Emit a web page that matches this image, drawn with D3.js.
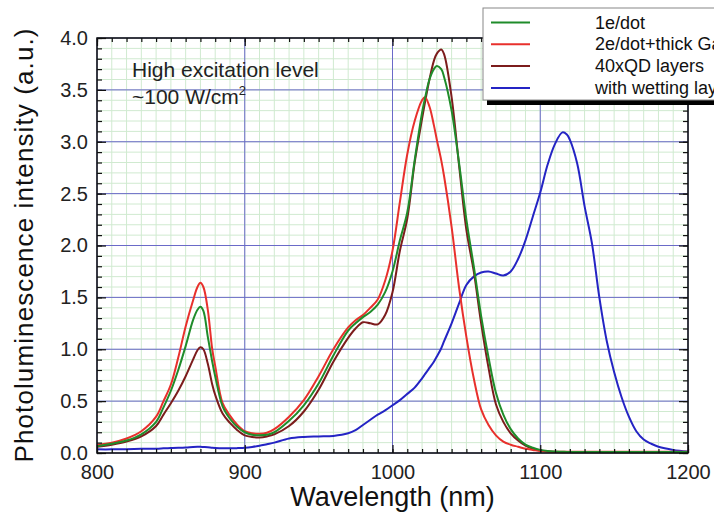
<!DOCTYPE html>
<html>
<head>
<meta charset="utf-8">
<script src="https://cdn.jsdelivr.net/npm/d3@7"></script>
<style>
  body { margin: 0; background: #fff; }
  svg { font-family: "Liberation Sans", Arial, sans-serif; }
  .axis text { font-size: 20px; fill: #222; }
  .axis .domain { display: none; }
  .axis line { stroke: #111; stroke-width: 1.2; }
</style>
</head>
<body>
<svg id="chart" width="714" height="516"></svg>
<script>
// wavelength sampling points (nm), shared by all spectra
const WAVELENGTHS = [
  800, 810, 820, 830, 840, 845, 850, 855, 860, 865, 868, 870, 872, 875, 878,
  880, 885, 890, 895, 900, 905, 910, 915, 920, 930, 940, 950, 960, 970, 975,
  980, 985, 990, 995, 1000, 1005, 1010, 1015, 1020, 1022, 1025, 1028, 1030,
  1033, 1035, 1040, 1045, 1050, 1055, 1060, 1065, 1070, 1075, 1080, 1085,
  1090, 1095, 1100, 1105, 1110, 1115, 1118, 1120, 1125, 1130, 1135, 1140,
  1145, 1150, 1155, 1160, 1165, 1170, 1175, 1180, 1190, 1200,
];

// PL intensity (a.u.)
const ONE_E_DOT = [
  0.065, 0.09, 0.12, 0.18, 0.3, 0.44, 0.6, 0.8, 1.03, 1.28, 1.38, 1.41, 1.37,
  1.12, 0.88, 0.74, 0.45, 0.33, 0.25, 0.2, 0.175, 0.17, 0.175, 0.2, 0.31, 0.46,
  0.67, 0.94, 1.18, 1.25, 1.31, 1.36, 1.43, 1.55, 1.75, 2.05, 2.32, 2.82, 3.28,
  3.42, 3.6, 3.7, 3.73, 3.7, 3.62, 3.3, 2.8, 2.25, 1.8, 1.32, 0.92, 0.58, 0.37,
  0.23, 0.14, 0.08, 0.05, 0.03, 0.02, 0.015, 0.012, 0.01, 0.01, 0.01, 0.01,
  0.01, 0.01, 0.01, 0.01, 0.01, 0.01, 0.01, 0.01, 0.01, 0.01, 0.01, 0.01,
];
const TWO_E_DOT = [
  0.08, 0.1, 0.14, 0.21, 0.35, 0.5, 0.66, 0.92, 1.22, 1.47, 1.6, 1.64, 1.6,
  1.38, 1.0, 0.84, 0.48, 0.36, 0.27, 0.21, 0.19, 0.185, 0.195, 0.23, 0.35, 0.51,
  0.74, 1.0, 1.21, 1.28, 1.33, 1.4, 1.48, 1.66, 1.95, 2.42, 2.88, 3.2, 3.4,
  3.43, 3.34, 3.16, 3.02, 2.82, 2.66, 2.18, 1.6, 1.12, 0.72, 0.42, 0.27, 0.17,
  0.11, 0.08, 0.06, 0.04, 0.03, 0.02, 0.015, 0.012, 0.012, 0.012, 0.012, 0.012,
  0.012, 0.012, 0.012, 0.012, 0.012, 0.012, 0.012, 0.012, 0.012, 0.012, 0.012,
  0.012, 0.012,
];
const QD_40_LAYERS = [
  0.06, 0.08, 0.11, 0.16, 0.26, 0.37, 0.48, 0.6, 0.74, 0.9, 0.99, 1.02, 1.0,
  0.86, 0.66, 0.56, 0.38, 0.29, 0.22, 0.17, 0.155, 0.15, 0.16, 0.18, 0.26, 0.4,
  0.61, 0.88, 1.11, 1.2, 1.26, 1.25, 1.24, 1.33, 1.55, 1.95, 2.26, 2.8, 3.22,
  3.38, 3.6, 3.78, 3.85, 3.89, 3.84, 3.43, 2.78, 2.15, 1.75, 1.25, 0.82, 0.47,
  0.3, 0.19, 0.12, 0.07, 0.04, 0.025, 0.015, 0.01, 0.008, 0.008, 0.008, 0.008,
  0.008, 0.008, 0.008, 0.008, 0.008, 0.008, 0.008, 0.008, 0.008, 0.008, 0.008,
  0.008, 0.008,
];
const WETTING_LAYER = [
  0.035, 0.035, 0.037, 0.04, 0.042, 0.045, 0.048, 0.05, 0.053, 0.058, 0.06,
  0.06, 0.058, 0.055, 0.05, 0.048, 0.045, 0.045, 0.047, 0.05, 0.058, 0.07,
  0.085, 0.1, 0.14, 0.155, 0.16, 0.165, 0.19, 0.22, 0.27, 0.32, 0.37, 0.41,
  0.46, 0.51, 0.57, 0.63, 0.72, 0.76, 0.82, 0.88, 0.93, 1.01, 1.08, 1.25, 1.44,
  1.62, 1.7, 1.74, 1.75, 1.73, 1.71, 1.75, 1.87, 2.05, 2.28, 2.51, 2.78, 2.98,
  3.09, 3.07, 3.02, 2.79, 2.38, 2.02, 1.5, 1.08, 0.78, 0.54, 0.35, 0.21, 0.13,
  0.09, 0.06, 0.03, 0.015,
];

const SERIES_NAMES = ["1e/dot", "2e/dot+thick Ga", "40xQD layers", "with wetting lay"];
const SERIES_COLORS = ["#1f8c2a", "#e8302c", "#7c1c1c", "#2424c4"];
const SERIES_VALUES = [ONE_E_DOT, TWO_E_DOT, QD_40_LAYERS, WETTING_LAYER];

// axis ticks
const X_MAJOR = [800, 900, 1000, 1100, 1200];
const Y_MAJOR = [0, 0.5, 1, 1.5, 2, 2.5, 3, 3.5, 4];

const config = {
  margin: { top: 38, left: 97 },
  width: 591,
  height: 415,
};

const svg = d3
  .select("#chart")
  .append("g")
  .attr("transform", `translate(${config.margin.left}, ${config.margin.top})`);

// Wavelength scale (x-axis)
const xScale = d3.scaleLinear().domain([800, 1200]).range([0, config.width]);

// Intensity scale (y-axis)
const yScale = d3.scaleLinear().domain([0, 4]).range([config.height, 0]);

const xMinor = d3.range(800, 1201, 10);
const yMinor = d3.range(0, 41).map((d) => d / 10);

// minor grid (light green)
svg
  .append("g")
  .selectAll("line")
  .data(xMinor)
  .join("line")
  .attr("x1", (d) => xScale(d))
  .attr("x2", (d) => xScale(d))
  .attr("y1", 0)
  .attr("y2", config.height)
  .attr("stroke", "#d0ead0")
  .attr("stroke-width", 1);
svg
  .append("g")
  .selectAll("line")
  .data(yMinor)
  .join("line")
  .attr("y1", (d) => yScale(d))
  .attr("y2", (d) => yScale(d))
  .attr("x1", 0)
  .attr("x2", config.width)
  .attr("stroke", "#d0ead0")
  .attr("stroke-width", 1);

// major grid (blue)
svg
  .append("g")
  .selectAll("line")
  .data(X_MAJOR)
  .join("line")
  .attr("x1", (d) => xScale(d))
  .attr("x2", (d) => xScale(d))
  .attr("y1", 0)
  .attr("y2", config.height)
  .attr("stroke", "#6a6ac8")
  .attr("stroke-width", 1);
svg
  .append("g")
  .selectAll("line")
  .data(Y_MAJOR)
  .join("line")
  .attr("y1", (d) => yScale(d))
  .attr("y2", (d) => yScale(d))
  .attr("x1", 0)
  .attr("x2", config.width)
  .attr("stroke", "#6a6ac8")
  .attr("stroke-width", 1);

// spectra
SERIES_VALUES.map((values, i) => i)
  .reverse()
  .forEach((i) => {
    const data = WAVELENGTHS.map((w, j) => ({ w, v: SERIES_VALUES[i][j] }));
    svg
      .append("path")
      .datum(data)
      .attr("fill", "none")
      .attr("stroke", SERIES_COLORS[i])
      .attr("stroke-width", 2)
      .attr(
        "d",
        d3
          .line()
          .x((d) => xScale(d.w))
          .y((d) => yScale(d.v))
          .curve(d3.curveCatmullRom.alpha(0.5))
      );
  });

// inward ticks on all four sides: minor then major
function addAxis(axisFn, scale, minor, major, minorLen, majorLen, transform, labels) {
  svg
    .append("g")
    .attr("class", "axis")
    .attr("transform", transform)
    .call(axisFn(scale).tickValues(minor).tickSize(-minorLen).tickFormat(""));
  const g = svg
    .append("g")
    .attr("class", "axis")
    .attr("transform", transform)
    .call(
      axisFn(scale)
        .tickValues(major)
        .tickSize(-majorLen)
        .tickPadding(axisFn === d3.axisBottom ? 12 : 9)
        .tickFormat(labels)
    );
  return g;
}

addAxis(d3.axisBottom, xScale, xMinor, X_MAJOR, 4, 8,
  `translate(0, ${config.height})`, d3.format("d"));
addAxis(d3.axisTop, xScale, xMinor, X_MAJOR, 4, 8, "translate(0, 0)", "");
addAxis(d3.axisLeft, yScale, yMinor, Y_MAJOR, 5, 9, "translate(0, 0)", d3.format(".1f"));
addAxis(d3.axisRight, yScale, yMinor, Y_MAJOR, 5, 9,
  `translate(${config.width}, 0)`, "");

// frame
svg
  .append("rect")
  .attr("width", config.width)
  .attr("height", config.height)
  .attr("fill", "none")
  .attr("stroke", "#111")
  .attr("stroke-width", 1.5);

// annotation
svg
  .append("text")
  .attr("x", 35)
  .attr("y", 39)
  .attr("font-size", 21)
  .attr("fill", "#222")
  .text("High excitation level");
const power = svg
  .append("text")
  .attr("x", 35)
  .attr("y", 66)
  .attr("font-size", 21)
  .attr("fill", "#222")
  .text("~100 W/cm");
power.append("tspan").attr("dy", -9).attr("font-size", 13).text("2");

// axis labels
svg
  .append("text")
  .attr("text-anchor", "middle")
  .attr("x", config.width / 2)
  .attr("y", config.height + 53)
  .attr("font-size", 27)
  .attr("fill", "#111")
  .text("Wavelength (nm)");
svg
  .append("text")
  .attr("text-anchor", "middle")
  .attr("transform", "rotate(-90)")
  .attr("x", -(config.height / 2))
  .attr("y", -64)
  .attr("font-size", 26)
  .attr("textLength", 434)
  .attr("fill", "#111")
  .text("Photoluminescence intensity (a.u.)");

// legend (box runs off the right edge, as in the source figure)
const legend = d3.select("#chart").append("g");
legend
  .append("rect")
  .attr("x", 487)
  .attr("y", 99)
  .attr("width", 240)
  .attr("height", 6)
  .attr("fill", "#000");
legend
  .append("rect")
  .attr("x", 483)
  .attr("y", 8)
  .attr("width", 240)
  .attr("height", 92)
  .attr("fill", "#fff")
  .attr("stroke", "#888");
SERIES_NAMES.forEach((name, i) => {
  const y = 22.5 + i * 21.8;
  legend
    .append("line")
    .attr("x1", 491)
    .attr("x2", 530)
    .attr("y1", y)
    .attr("y2", y)
    .attr("stroke", SERIES_COLORS[i])
    .attr("stroke-width", 2);
  legend
    .append("text")
    .attr("x", 595)
    .attr("y", y + 6)
    .attr("font-size", 18)
    .attr("fill", "#111")
    .text(name);
});
</script>
</body>
</html>
